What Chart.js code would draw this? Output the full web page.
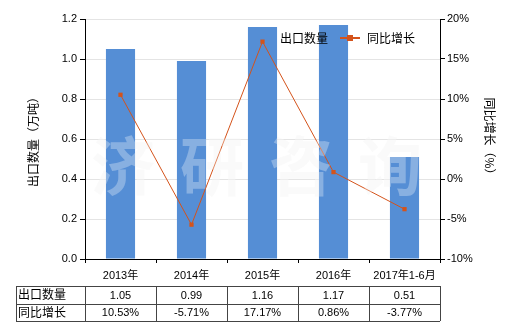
<!DOCTYPE html>
<html>
<head>
<meta charset="utf-8">
<script src="https://cdn.jsdelivr.net/npm/chart.js@4"></script>
<style>
  html, body { margin: 0; padding: 0; background: #fff; }
  #wrap { width: 520px; height: 330px; position: relative; }
</style>
</head>
<body>
<div id="wrap"><canvas id="chart"></canvas></div>
<script>
// data
const years = ['2013年', '2014年', '2015年', '2016年', '2017年1-6月'];
const exportQty = [1.05, 0.99, 1.16, 1.17, 0.51];      // 万吨
const growth = [10.53, -5.71, 17.17, 0.86, -3.77];     // %
const qtyLabels = ['1.05', '0.99', '1.16', '1.17', '0.51'];
const growthLabels = ['10.53%', '-5.71%', '17.17%', '0.86%', '-3.77%'];

const barColor = '#558ed5';
const lineColor = '#d4531b';
const fontFam = '"Liberation Sans", "Noto Sans CJK SC", sans-serif';

function drawWatermark(ctx, fill) {
    ctx.save();
    ctx.font = 'bold 64px "Noto Sans CJK SC"';
    ctx.textAlign = 'center';
    ctx.textBaseline = 'middle';
    ctx.fillStyle = fill;
    ['济', '研', '咨', '询'].forEach((c, i) => ctx.fillText(c, 123 + i * 89, 166));
    ctx.restore();
}

// watermark, legend, axis titles and the data table under the chart
const extras = {
    id: 'extras',
    beforeDatasetsDraw(chart) {
        drawWatermark(chart.ctx, 'rgba(235,235,235,0.35)');
    },
    afterDatasetsDraw(chart) {
        drawWatermark(chart.ctx, 'rgba(255,255,255,0.3)');
    },
    afterDraw(chart) {
        const ctx = chart.ctx;
        const x = chart.scales.x;
        ctx.save();

        // legend
        ctx.font = '12px "Noto Sans CJK SC"';
        ctx.textBaseline = 'middle';
        ctx.fillStyle = barColor;
        ctx.fillRect(265, 32, 12, 12);
        ctx.fillStyle = '#000';
        ctx.textAlign = 'left';
        ctx.fillText('出口数量', 280, 38);
        ctx.strokeStyle = lineColor;
        ctx.lineWidth = 2;
        ctx.beginPath();
        ctx.moveTo(340, 38);
        ctx.lineTo(360, 38);
        ctx.stroke();
        ctx.fillStyle = lineColor;
        ctx.fillRect(347, 35, 6, 6);
        ctx.fillStyle = '#000';
        ctx.fillText('同比增长', 367, 38);

        // axis titles
        ctx.save();
        ctx.translate(33, 139);
        ctx.rotate(-Math.PI / 2);
        ctx.textAlign = 'center';
        ctx.fillText('出口数量（万吨）', 0, 0);
        ctx.restore();
        ctx.save();
        ctx.translate(490, 139);
        ctx.rotate(Math.PI / 2);
        ctx.textAlign = 'center';
        ctx.fillText('同比增长（%）', 0, 0);
        ctx.restore();

        // table
        const half = (x.getPixelForValue(1) - x.getPixelForValue(0)) / 2;
        const tLeft = 16, tTop = 286, rowH = 17.5;
        const tRight = x.getPixelForValue(years.length - 1) + half;
        ctx.strokeStyle = '#444';
        ctx.lineWidth = 1;
        ctx.beginPath();
        for (let r = 0; r <= 2; r++) {
            const yy = Math.round(tTop + r * rowH) + 0.5;
            ctx.moveTo(tLeft, yy);
            ctx.lineTo(tRight, yy);
        }
        const xs = [tLeft];
        for (let i = 0; i < years.length; i++) xs.push(x.getPixelForValue(i) - half);
        xs.push(tRight);
        xs.forEach(xx => {
            const px = Math.round(xx) + 0.5;
            ctx.moveTo(px, tTop);
            ctx.lineTo(px, tTop + 2 * rowH);
        });
        ctx.stroke();

        ctx.fillStyle = '#000';
        ctx.font = '12px "Noto Sans CJK SC"';
        ctx.textAlign = 'left';
        ctx.fillText('出口数量', tLeft + 2, tTop + rowH / 2);
        ctx.fillText('同比增长', tLeft + 2, tTop + rowH * 1.5);
        ctx.font = '11px ' + fontFam;
        ctx.textAlign = 'center';
        for (let i = 0; i < years.length; i++) {
            const cx = x.getPixelForValue(i);
            ctx.fillText(qtyLabels[i], cx, tTop + rowH / 2 + 1);
            ctx.fillText(growthLabels[i], cx, tTop + rowH * 1.5 + 1);
        }
        ctx.restore();
    }
};

new Chart(document.getElementById('chart'), {
    data: {
        labels: years,
        datasets: [
            {
                type: 'line',
                label: '同比增长',
                data: growth,
                yAxisID: 'y1',
                borderColor: lineColor,
                backgroundColor: lineColor,
                borderWidth: 1,
                pointStyle: 'rect',
                pointRadius: 3,
                pointBorderWidth: 0,
                tension: 0,
                order: 0
            },
            {
                type: 'bar',
                label: '出口数量',
                data: exportQty,
                yAxisID: 'y',
                backgroundColor: barColor,
                barPercentage: 0.41,
                categoryPercentage: 1,
                order: 1
            }
        ]
    },
    options: {
        responsive: true,
        maintainAspectRatio: false,
        animation: false,
        layout: { padding: { left: 0, right: 0, top: 19, bottom: 0 } },
        plugins: {
            legend: { display: false },
            tooltip: { enabled: false }
        },
        scales: {
            x: {
                grid: { display: true, drawOnChartArea: false, tickLength: 4, tickColor: '#000' },
                border: { color: '#000' },
                ticks: {
                    color: '#000',
                    padding: 6,
                    font: { family: fontFam, size: 11 },
                    maxRotation: 0
                },
                afterFit(s) { s.height = 71; }
            },
            y: {
                position: 'left',
                min: 0,
                max: 1.2,
                grid: { color: '#e4e4e4', tickLength: 5, tickColor: '#000' },
                border: { color: '#000' },
                ticks: {
                    stepSize: 0.2,
                    color: '#000',
                    padding: 3,
                    font: { family: fontFam, size: 11 },
                    callback: v => v.toFixed(1)
                },
                afterFit(s) { s.width = 85; }
            },
            y1: {
                position: 'right',
                min: -10,
                max: 20,
                grid: { drawOnChartArea: false, tickLength: 5, tickColor: '#000' },
                border: { color: '#000' },
                ticks: {
                    stepSize: 5,
                    color: '#000',
                    padding: 2,
                    font: { family: fontFam, size: 11 },
                    callback: v => v + '%'
                },
                afterFit(s) { s.width = 80; }
            }
        }
    },
    plugins: [extras]
});
</script>
</body>
</html>
